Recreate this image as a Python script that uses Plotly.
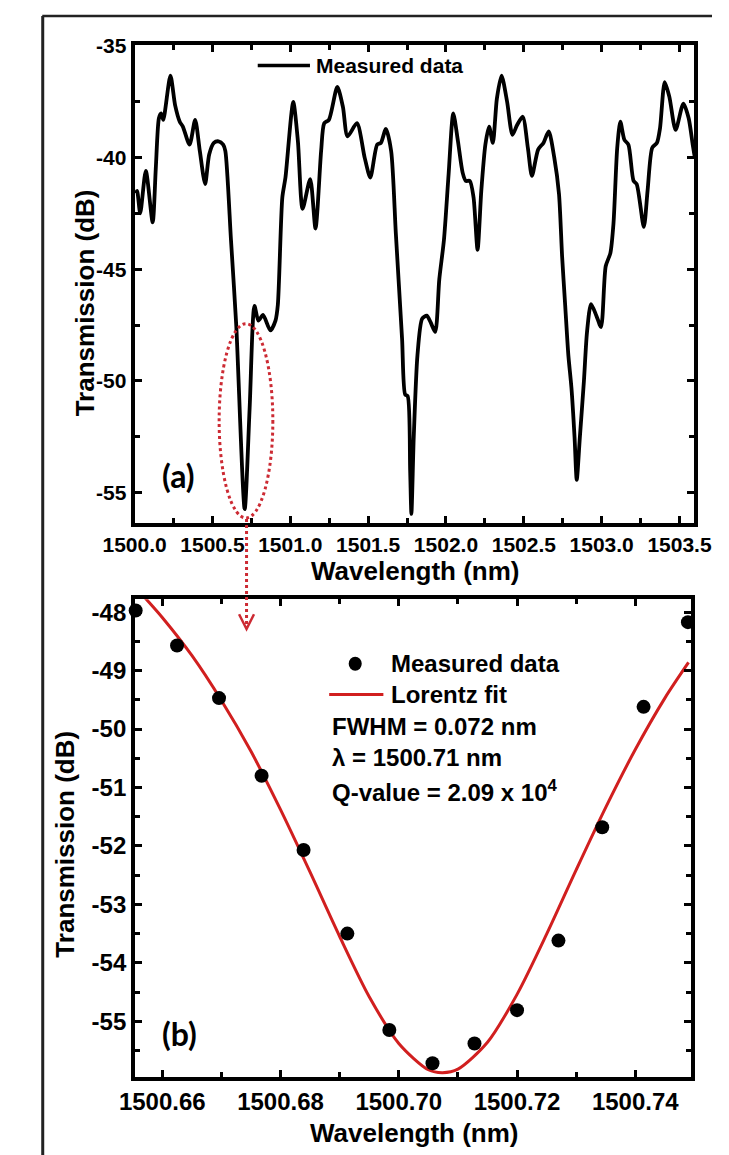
import plotly.graph_objects as go

W, H = 729, 1155


def px(x):
    return x / W


def py(y):
    return 1 - y / H


# ---------------- data: panel (a) measured spectrum ----------------
wl_a = [1500.008, 1500.016, 1500.036, 1500.072, 1500.116, 1500.136, 1500.156, 1500.170,
        1500.184, 1500.230, 1500.260, 1500.290, 1500.310, 1500.353, 1500.389, 1500.419,
        1500.453, 1500.479, 1500.509, 1500.539, 1500.569, 1500.583, 1500.619, 1500.653,
        1500.707, 1500.739, 1500.770, 1500.795, 1500.825, 1500.872, 1500.905, 1500.920,
        1500.949, 1500.969, 1501.019, 1501.049, 1501.079, 1501.128, 1501.162, 1501.198,
        1501.218, 1501.248, 1501.302, 1501.338, 1501.368, 1501.428, 1501.478, 1501.514,
        1501.558, 1501.582, 1501.614, 1501.648, 1501.678, 1501.718, 1501.738, 1501.754,
        1501.770, 1501.778, 1501.793, 1501.817, 1501.847, 1501.877, 1501.901, 1501.931,
        1501.957, 1501.987, 1502.017, 1502.047, 1502.077, 1502.107, 1502.127, 1502.153,
        1502.177, 1502.203, 1502.227, 1502.253, 1502.277, 1502.301, 1502.327, 1502.357,
        1502.393, 1502.427, 1502.457, 1502.493, 1502.526, 1502.552, 1502.592, 1502.626,
        1502.660, 1502.696, 1502.726, 1502.746, 1502.766, 1502.786, 1502.806, 1502.826,
        1502.840, 1502.860, 1502.886, 1502.906, 1502.932, 1502.966, 1502.996, 1503.026,
        1503.056, 1503.076, 1503.100, 1503.120, 1503.146, 1503.172, 1503.205, 1503.225,
        1503.271, 1503.295, 1503.325, 1503.355, 1503.375, 1503.405, 1503.435, 1503.475,
        1503.525, 1503.559, 1503.585, 1503.599]
db_a = [-41.6, -41.5, -42.5, -40.6, -42.9, -40.5, -38.25, -38.03,
        -38.32, -36.34, -37.66, -38.40, -38.62, -39.43, -38.32, -39.72,
        -41.19, -39.87, -39.35, -39.28, -39.43, -39.72, -43.69, -47.53,
        -55.74, -51.2, -46.64, -47.30, -47.05, -47.74, -47.30, -46.6,
        -41.78, -40.90, -37.52, -39.28, -42.30, -40.97, -43.18, -39.72,
        -38.47, -38.32, -36.85, -37.74, -39.06, -38.47, -40.02, -40.90,
        -39.43, -39.35, -38.72, -39.72, -43.40, -48.11, -50.61, -50.68,
        -54.0, -55.95, -52.52, -48.84, -47.22, -47.08, -47.37, -47.81,
        -45.46, -43.69, -40.75, -38.03, -39.28, -40.68, -41.05, -41.05,
        -41.78, -44.13, -41.49, -39.43, -38.62, -39.35, -37.37, -36.34,
        -37.52, -38.99, -38.55, -38.18, -39.57, -40.83, -39.65, -39.35,
        -38.84, -40.02, -41.63, -44.43, -46.64, -48.84, -50.31, -52.52,
        -54.43, -52.52, -50.02, -47.81, -46.56, -47.08, -47.59, -44.87,
        -44.28, -42.96, -39.57, -38.40, -39.21, -39.43, -41.05, -41.19,
        -43.11, -41.49, -39.57, -39.35, -38.69, -36.63, -37.29, -38.77,
        -37.59, -38.25, -39.43, -40.02]

# ---------------- data: panel (b) zoomed resonance ----------------
wl_b = [1500.6555, 1500.6625, 1500.6696, 1500.6768, 1500.6839, 1500.6913, 1500.6984,
        1500.7057, 1500.7128, 1500.7200, 1500.7270, 1500.7344, 1500.7414, 1500.7489]
db_b = [-47.97, -48.57, -49.47, -50.80, -52.07, -53.50, -55.15,
        -55.72, -55.38, -54.81, -53.62, -51.68, -49.62, -48.17]

fit_wl = [1500.6566, 1500.660, 1500.665, 1500.670, 1500.675, 1500.680, 1500.685,
          1500.690, 1500.695, 1500.700, 1500.705, 1500.7074, 1500.710, 1500.715,
          1500.720, 1500.725, 1500.730, 1500.735, 1500.740, 1500.745, 1500.749]
fit_db = [-47.70, -48.09, -48.74, -49.51, -50.38, -51.38, -52.45,
          -53.55, -54.58, -55.38, -55.83, -55.88, -55.82, -55.36,
          -54.54, -53.51, -52.41, -51.34, -50.35, -49.47, -48.86]

# ---------------- ticks ----------------
xticks_a = [1500.0, 1500.5, 1501.0, 1501.5, 1502.0, 1502.5, 1503.0, 1503.5]
xticklabels_a = ["1500.0", "1500.5", "1501.0", "1501.5", "1502.0", "1502.5", "1503.0", "1503.5"]
yticks_a = [-55, -50, -45, -40, -35]
yticklabels_a = ["-55", "-50", "-45", "-40", "-35"]
xticks_b = [1500.66, 1500.68, 1500.70, 1500.72, 1500.74]
xticklabels_b = ["1500.66", "1500.68", "1500.70", "1500.72", "1500.74"]
yticks_b = [-55, -54, -53, -52, -51, -50, -49, -48]
yticklabels_b = ["-55", "-54", "-53", "-52", "-51", "-50", "-49", "-48"]

FONT = "Liberation Sans, Arial, sans-serif"
RED = "#d11f1f"
DOTRED = "#cc2a33"

fig = go.Figure()
fig.add_trace(go.Scatter(x=wl_a, y=db_a, mode="lines", name="Measured data",
                         line=dict(color="black", width=3.8, shape="spline", smoothing=0.7),
                         xaxis="x", yaxis="y", showlegend=False))
fig.add_trace(go.Scatter(x=fit_wl, y=fit_db, mode="lines", name="Lorentz fit",
                         line=dict(color=RED, width=3, shape="spline", smoothing=0.8),
                         xaxis="x2", yaxis="y2", showlegend=False))
fig.add_trace(go.Scatter(x=wl_b, y=db_b, mode="markers", name="Measured data",
                         marker=dict(color="black", size=14), cliponaxis=False,
                         xaxis="x2", yaxis="y2", showlegend=False))


def axis(size, minor_dtick, **kw):
    d = dict(showline=True, linewidth=4, linecolor="black", mirror="allticks",
             ticks="inside", ticklen=7, tickwidth=3, tickcolor="black",
             showgrid=False, zeroline=False,
             minor=dict(ticks="inside", ticklen=5, tickwidth=3, tickcolor="black",
                        dtick=minor_dtick, showgrid=False),
             tickfont=dict(family=FONT, size=size, color="black", weight="bold"))
    d.update(kw)
    return d


fig.update_layout(
    width=W, height=H, autosize=False,
    margin=dict(l=0, r=0, t=0, b=0),
    paper_bgcolor="white", plot_bgcolor="white",
    xaxis=axis(21, 0.25, domain=[px(110), px(710)], range=[1500.0, 1503.595],
               anchor="y", tickmode="array", tickvals=xticks_a, ticktext=xticklabels_a),
    yaxis=axis(21, 2.5, domain=[py(517), py(34)], range=[-56.36, -34.956],
               anchor="x", tickmode="array", tickvals=yticks_a, ticktext=yticklabels_a),
    xaxis2=axis(24, 0.01, domain=[px(110.5), px(707)], range=[1500.6554, 1500.7495],
                anchor="y2", tickmode="array", tickvals=xticks_b, ticktext=xticklabels_b),
    yaxis2=axis(24, 0.5, domain=[py(1076), py(594)], range=[-55.95, -47.78],
                anchor="x2", tickmode="array", tickvals=yticks_b, ticktext=yticklabels_b),
)

ann = []


def text(x, y, s, size, xanchor="left", angle=0, family=FONT):
    ann.append(dict(x=px(x), y=py(y), xref="paper", yref="paper", text=s, showarrow=False,
                    xanchor=xanchor, yanchor="middle", textangle=angle,
                    font=dict(family=family, size=size, color="black", weight="bold")))


# axis titles
text(411, 565, "Wavelength (nm)", 26, xanchor="center")
text(57, 295, "Transmission (dB)", 26, xanchor="center", angle=-90)
text(409, 1133, "Wavelength (nm)", 26, xanchor="center")
text(35, 841, "Transmission (dB)", 26, xanchor="center", angle=-90)
# panel labels
text(157, 469, "(a)", 32, xanchor="center", family="Lato, Open Sans, sans-serif")
text(158, 1032, "(b)", 32, xanchor="center", family="Lato, Open Sans, sans-serif")
# legends
text(302, 55, "Measured data", 21)
text(383, 659, "Measured data", 24)
text(383, 690, "Lorentz fit", 24)
# fit results
text(320, 722, "FWHM = 0.072 nm", 24)
text(320, 754, "λ = 1500.71 nm", 24)
text(320, 788, "Q-value = 2.09 x 10<sup>4</sup>", 24)

shapes = []
# legend samples
shapes.append(dict(type="line", xref="paper", yref="paper", x0=px(242), x1=px(298),
                   y0=py(55), y1=py(55), line=dict(color="black", width=3.5)))
shapes.append(dict(type="circle", xref="paper", yref="paper", x0=px(339.5), x1=px(353.5),
                   y0=py(666), y1=py(652), fillcolor="black", line=dict(color="black", width=0)))
shapes.append(dict(type="line", xref="paper", yref="paper", x0=px(318.6), x1=px(376.7),
                   y0=py(690), y1=py(690), line=dict(color=RED, width=3)))
# dotted ellipse around the resonance in (a)
shapes.append(dict(type="circle", xref="x", yref="y", x0=1500.543, x1=1500.888,
                   y0=-56.13, y1=-47.44, line=dict(color=DOTRED, width=3, dash="dot")))
# dotted arrow down to panel (b)
shapes.append(dict(type="line", xref="paper", yref="paper", x0=px(230), x1=px(230),
                   y0=py(513), y1=py(622), line=dict(color=DOTRED, width=3, dash="dot")))
shapes.append(dict(type="path", xref="paper", yref="paper",
                   path=f"M {px(222)},{py(609)} L {px(230)},{py(624)} L {px(238)},{py(609)}",
                   line=dict(color=DOTRED, width=2.5)))
# outer border (top and left)
shapes.append(dict(type="line", xref="paper", yref="paper", x0=px(11), x1=1,
                   y0=py(5), y1=py(5), line=dict(color="#222", width=2.5)))
shapes.append(dict(type="line", xref="paper", yref="paper", x0=px(11.5), x1=px(11.5),
                   y0=py(5), y1=0, line=dict(color="#222", width=3)))

fig.update_layout(annotations=ann, shapes=shapes)
fig.write_html("out.html", config={"displayModeBar": False},
               post_script="document.body.style.margin='0';document.body.style.overflow='hidden';")
